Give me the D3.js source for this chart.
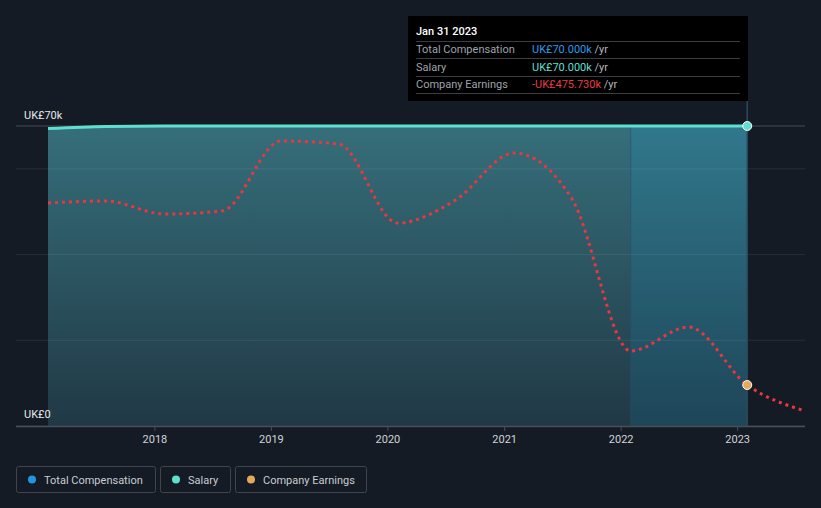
<!DOCTYPE html>
<html><head><meta charset="utf-8">
<script src="https://cdn.jsdelivr.net/npm/d3@7"></script>
<style>
html,body{margin:0;padding:0;background:#151b24;}
svg{display:block;font-family:Roboto,"Open Sans",sans-serif;}
</style></head>
<body><svg id="c" width="821" height="508"></svg>
<script>
const compDates = ["2017-01-31","2017-07-31","2018-01-31","2018-07-31","2019-01-31","2019-07-31","2020-01-31","2020-07-31","2021-01-31","2021-07-31","2022-01-31","2022-07-31","2023-01-31"];
const salary = [69.4,69.9,70,70,70,70,70,70,70,70,70,70,70];
const totalComp = [69.4,69.9,70,70,70,70,70,70,70,70,70,70,70];
const earnDates = ["2017-01-31","2017-07-31","2018-01-31","2018-07-31","2019-01-31","2019-07-31","2020-01-31","2020-07-31","2021-01-31","2021-07-31","2022-01-31","2022-07-31","2023-01-31","2023-07-31"];
const earnings = [-141.4,-137.7,-161.6,-156.1,-27.5,-33.0,-178.2,-135.9,-49.6,-134.1,-413.2,-369.2,-475.73,-523.4];
const yTicks = [0,20,40,60,70];
const yLabels = ["UK£0","UK£70k"];
const xTickYears = [2018,2019,2020,2021,2022,2023];

const parse = d3.timeParse("%Y-%m-%d");
const svg = d3.select("#c");
const x = d3.scaleTime().domain([parse("2017-01-31"), parse("2023-07-31")]).range([48, 805]);
const y = d3.scaleLinear().domain([0,70]).range([426,126]);
const y2 = d3.scaleLinear().domain([-551,0]).range([426,126]);

const defs = svg.append("defs");
const g1 = defs.append("linearGradient").attr("id","ga").attr("x1",0).attr("y1",0).attr("x2",0).attr("y2",1);
g1.append("stop").attr("offset","0%").attr("stop-color","#37737f");
g1.append("stop").attr("offset","100%").attr("stop-color","#213a47");
const g2 = defs.append("linearGradient").attr("id","gb").attr("x1",0).attr("y1",0).attr("x2",0).attr("y2",1);
g2.append("stop").attr("offset","0%").attr("stop-color","#31788c");
g2.append("stop").attr("offset","100%").attr("stop-color","#1e4558");

const comp = compDates.map((d,i)=>({d:parse(d), s:salary[i], t:totalComp[i]}));
const earn = earnDates.map((d,i)=>({d:parse(d), v:earnings[i]}));

// gridlines
svg.append("g").selectAll("line").data(yTicks).join("line")
  .attr("x1",16).attr("x2",805).attr("y1",d=>y(d)).attr("y2",d=>y(d))
  .attr("stroke",d=>d===70?"#454b54":"#262e38").attr("stroke-width",1);

// area
const area = d3.area().x(d=>x(d.d)).y0(y(0)).y1(d=>y(d.t)).curve(d3.curveMonotoneX);
svg.append("path").datum(comp).attr("d",area).attr("fill","url(#ga)").attr("opacity",0.95);
// highlight last year
const clip = defs.append("clipPath").attr("id","hl");
clip.append("rect").attr("x",x(parse("2022-01-31"))).attr("y",0).attr("width",x(parse("2023-01-31"))-x(parse("2022-01-31"))).attr("height",508);
svg.append("path").datum(comp).attr("d",area).attr("fill","url(#gb)").attr("clip-path","url(#hl)");
svg.append("line").attr("x1",x(parse("2022-01-31"))).attr("x2",x(parse("2022-01-31"))).attr("y1",y(70)).attr("y2",426).attr("stroke","#2a5062").attr("stroke-opacity",0.6).attr("stroke-width",1);

// gridlines over area (subtle)
svg.append("g").selectAll("line").data(yTicks.filter(d=>d>0&&d<70)).join("line")
  .attr("x1",x(parse("2017-01-31"))).attr("x2",x(parse("2023-01-31"))).attr("y1",d=>y(d)).attr("y2",d=>y(d))
  .attr("stroke","#ffffff").attr("stroke-opacity",0.07);

// hover line
svg.append("line").attr("x1",x(parse("2023-01-31"))).attr("x2",x(parse("2023-01-31"))).attr("y1",101).attr("y2",426).attr("stroke","#2a4a5c").attr("stroke-width",1.5);

// salary line
const sLine = d3.line().x(d=>x(d.d)).y(d=>y(d.s)).curve(d3.curveMonotoneX);
svg.append("path").datum(comp).attr("d",sLine).attr("fill","none").attr("stroke","#5fdfcf").attr("stroke-width",3);

// earnings line
const eLine = d3.line().x(d=>x(d.d)).y(d=>y2(d.v)).curve(d3.curveMonotoneX);
svg.append("path").datum(earn).attr("d",eLine).attr("fill","none").attr("stroke","#e8373e").attr("stroke-width",3).attr("stroke-dasharray","3 4");

// markers
svg.append("circle").attr("cx",x(parse("2023-01-31"))).attr("cy",y(70)).attr("r",4.5).attr("fill","#5fdfcf").attr("stroke","#ffffff").attr("stroke-width",1);
svg.append("circle").attr("cx",x(parse("2023-01-31"))).attr("cy",y2(-475.73)).attr("r",4.5).attr("fill","#e8a85a").attr("stroke","#ffffff").attr("stroke-width",1);

// x axis
svg.append("line").attr("x1",16).attr("x2",805).attr("y1",426.5).attr("y2",426.5).attr("stroke","#4a4f57").attr("stroke-width",1.5);
const xa = svg.append("g");
xTickYears.forEach(yr=>{
  const xx = x(new Date(yr,0,1));
  xa.append("line").attr("x1",xx).attr("x2",xx).attr("y1",426).attr("y2",431).attr("stroke","#4a4f57");
  xa.append("text").attr("x",xx).attr("y",443).attr("text-anchor","middle").attr("fill","#d0d3d8").attr("font-size",11).text(yr);
});

// y labels
svg.append("text").attr("x",24).attr("y",119).attr("fill","#e6e8eb").attr("font-size",11).text(yLabels[1]);
svg.append("text").attr("x",24).attr("y",418).attr("fill","#e6e8eb").attr("font-size",11).text(yLabels[0]);

// tooltip
const tt = svg.append("g");
tt.append("rect").attr("x",408).attr("y",16).attr("width",340).attr("height",85).attr("fill","#000");
tt.append("text").attr("x",416).attr("y",35).attr("fill","#fff").attr("font-size",11).attr("font-weight",500).text("Jan 31 2023");
[41,58,76,93].forEach(yy=>tt.append("line").attr("x1",416).attr("x2",740).attr("y1",yy+0.5).attr("y2",yy+0.5).attr("stroke","#3a3d42"));
const rows = [["Total Compensation","UK£70.000k","#2a9bea"],["Salary","UK£70.000k","#5fdfcf"],["Company Earnings","-UK£475.730k","#ea3b43"]];
rows.forEach((r,i)=>{
  const yy = 53 + i*17.5;
  tt.append("text").attr("x",416).attr("y",yy).attr("fill","#9ea3aa").attr("font-size",11).text(r[0]);
  const t = tt.append("text").attr("x",532).attr("y",yy).attr("font-size",11);
  t.append("tspan").attr("fill",r[2]).text(r[1]);
  t.append("tspan").attr("fill","#b4b8be").text(" /yr");
});

// legend
const legend = [["Total Compensation","#2394df",16,139],["Salary","#5fdfcf",160,70],["Company Earnings","#e8a85a",235,131]];
legend.forEach(l=>{
  const g = svg.append("g");
  g.append("rect").attr("x",l[2]+0.5).attr("y",466.5).attr("width",l[3]).attr("height",26).attr("rx",2).attr("fill","none").attr("stroke","#40454d");
  g.append("circle").attr("cx",l[2]+16).attr("cy",479.5).attr("r",4).attr("fill",l[1]);
  g.append("text").attr("x",l[2]+28).attr("y",483.5).attr("fill","#c9ccd1").attr("font-size",11).text(l[0]);
});
</script></body></html>
